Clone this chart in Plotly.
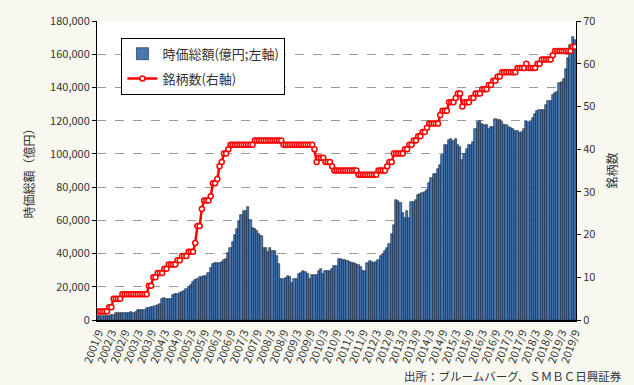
import plotly.graph_objects as go

# ---- data ----
START_YEAR, START_MONTH, N_MONTHS = 2001, 9, 217
months = []
yy, mm = START_YEAR, START_MONTH
for _ in range(N_MONTHS):
    months.append(f"{yy}/{mm}")
    mm += 1
    if mm > 12:
        mm = 1
        yy += 1

tick_labels = ["2001/9", "2002/3", "2002/9", "2003/3", "2003/9", "2004/3", "2004/9",
               "2005/3", "2005/9", "2006/3", "2006/9", "2007/3", "2007/9", "2008/3",
               "2008/9", "2009/3", "2009/9", "2010/3", "2010/9", "2011/3", "2011/9",
               "2012/3", "2012/9", "2013/3", "2013/9", "2014/3", "2014/9", "2015/3",
               "2015/9", "2016/3", "2016/9", "2017/3", "2017/9", "2018/3", "2018/9",
               "2019/3", "2019/9"]

market_cap = [
    2600, 2500, 2300, 2300, 2400, 2600, 2800, 3000, 4000, 4000,
    4100, 4000, 4300, 4400, 4500, 4600, 4500, 5000, 5800, 6000,
    6100, 6200, 7000, 7400, 7800, 8000, 8200, 9300, 9600, 12600,
    13000, 12400, 12400, 12800, 15000, 15400, 15800, 16500, 17000, 17500,
    18600, 19600, 21200, 23000, 24000, 24500, 25600, 26000, 26600, 26600,
    28500, 31500, 33900, 34500, 34500, 34600, 35100, 36000, 36500, 40500,
    43500, 47000, 51000, 55000, 59400, 63400, 65400, 65500, 67800, 60400,
    55400, 55000, 53400, 51500, 50400, 43500, 43500, 41100, 43500, 41500,
    41500, 38500, 33500, 24600, 24600, 25000, 26600, 26000, 22300, 24600,
    24600, 27600, 28500, 29600, 29100, 27600, 24600, 27200, 27200, 27200,
    29600, 30600, 27600, 29600, 29600, 29600, 30600, 32500, 32500, 36500,
    36500, 36000, 35900, 35500, 34800, 34500, 34500, 33500, 33000, 32000,
    29600, 29600, 34500, 35500, 35000, 34500, 34800, 35900, 38500, 39500,
    41500, 43500, 45500, 51500, 57400, 72400, 71500, 70300, 64400, 61400,
    65400, 61400, 71300, 71300, 72400, 75300, 75700, 76300, 77300, 78300,
    82300, 85300, 87600, 87600, 90900, 93600, 99200, 105200, 105200, 108200,
    108800, 107600, 108800, 105200, 104200, 96200, 100200, 103200, 105200, 105200,
    107200, 114700, 119100, 120000, 118100, 117500, 117500, 115100, 116100, 116100,
    121200, 120700, 120700, 119100, 117100, 117100, 116100, 115500, 114700, 113500,
    113500, 112600, 113000, 115100, 120100, 119100, 119100, 121500, 124000, 126000,
    126300, 126600, 126600, 129400, 132000, 132000, 135300, 136900, 137500, 142600,
    143400, 145000, 151300, 157900, 165300, 170400, 168800,
]

num_issues = [
    2, 2, 2, 2, 2, 3, 3, 5, 5, 5,
    5, 6, 6, 6, 6, 6, 6, 6, 6, 6,
    6, 6, 6, 8, 8, 10, 10, 11, 11, 11,
    12, 12, 13, 13, 13, 13, 14, 14, 15, 15,
    15, 16, 16, 16, 18, 22, 22, 26, 28, 28,
    28, 29, 32, 32, 33, 36, 37, 39, 39, 40,
    41, 41, 41, 41, 41, 41, 41, 41, 41, 41,
    41, 42, 42, 42, 42, 42, 42, 42, 42, 42,
    42, 42, 42, 42, 41, 41, 41, 41, 41, 41,
    41, 41, 41, 41, 41, 41, 41, 41, 40, 37,
    38, 38, 38, 37, 37, 37, 36, 35, 35, 35,
    35, 35, 35, 35, 35, 35, 35, 35, 34, 34,
    34, 34, 34, 34, 34, 34, 34, 35, 35, 35,
    35, 36, 37, 37, 39, 39, 39, 39, 39, 40,
    40, 41, 41, 42, 42, 43, 43, 44, 44, 45,
    46, 46, 46, 46, 46, 48, 49, 49, 49, 51,
    51, 51, 52, 53, 53, 50, 51, 51, 51, 52,
    52, 53, 53, 53, 54, 54, 54, 55, 55, 56,
    56, 57, 57, 58, 58, 58, 58, 58, 58, 58,
    59, 59, 59, 59, 60, 59, 59, 59, 59, 60,
    60, 61, 61, 61, 61, 61, 62, 63, 63, 63,
    63, 63, 63, 63, 63, 64, 64,
]

FONT = "Noto Sans CJK JP, Noto Sans, sans-serif"

fig = go.Figure()
fig.add_trace(go.Bar(
    x=months, y=market_cap, name="時価総額(億円;左軸)",
    marker=dict(color="#4a78b2", line=dict(color="#0d1b33", width=0.6)),
    legendgroup="a",
))
fig.add_trace(go.Scatter(
    x=months, y=num_issues, name="銘柄数(右軸)", yaxis="y2",
    mode="lines+markers",
    line=dict(color="#ff0000", width=2.5),
    marker=dict(symbol="circle", size=5, color="white",
                line=dict(color="#ff0000", width=1.5)),
    legendgroup="b",
))

fig.update_layout(
    width=634, height=385,
    margin=dict(l=97, r=58, t=18, b=65),
    paper_bgcolor="#f8f8f0",
    plot_bgcolor="white",
    font=dict(family=FONT, size=11, color="#333333"),
    bargap=0,
    showlegend=True,
    legend=dict(
        x=0.051, y=0.944, xanchor="left", yanchor="top",
        bgcolor="white", bordercolor="#000000", borderwidth=1,
        font=dict(size=13, color="#333333"),
        tracegroupgap=5, traceorder="grouped",
        itemwidth=30,
    ),
    xaxis=dict(
        type="category",
        tickmode="array", tickvals=tick_labels, ticktext=tick_labels,
        tickangle=-70, tickfont=dict(size=11),
        showgrid=False, showline=True, linecolor="#000000", linewidth=2,
        ticks="", range=[-0.5, N_MONTHS - 0.5],
    ),
    yaxis=dict(
        range=[0, 180000], dtick=20000, tickformat=",d",
        showgrid=True, gridcolor="#9a9a9a", griddash="dash", gridwidth=1,
        showline=True, linecolor="#000000", linewidth=1,
        ticks="outside", ticklen=4, tickcolor="#000000",
        zeroline=False,
        title=dict(text="時価総額（億円）", font=dict(size=12), standoff=12),
    ),
    yaxis2=dict(
        range=[0, 70], dtick=10, overlaying="y", side="right",
        showgrid=False, showline=True, linecolor="#000000", linewidth=1,
        ticks="outside", ticklen=4, tickcolor="#000000",
        zeroline=False,
        title=dict(text="銘柄数", font=dict(size=12), standoff=14),
    ),
    annotations=[dict(
        text="出所：ブルームバーグ、ＳＭＢＣ日興証券",
        xref="paper", yref="paper", x=1.1, y=-0.155,
        xanchor="right", yanchor="top", showarrow=False,
        font=dict(size=11.5, color="#333333"),
    )],
)

fig.write_html(
    "out.html",
    config={"displayModeBar": False},
    post_script="document.body.style.margin='0';document.body.style.background='#f8f8f0';",
)
